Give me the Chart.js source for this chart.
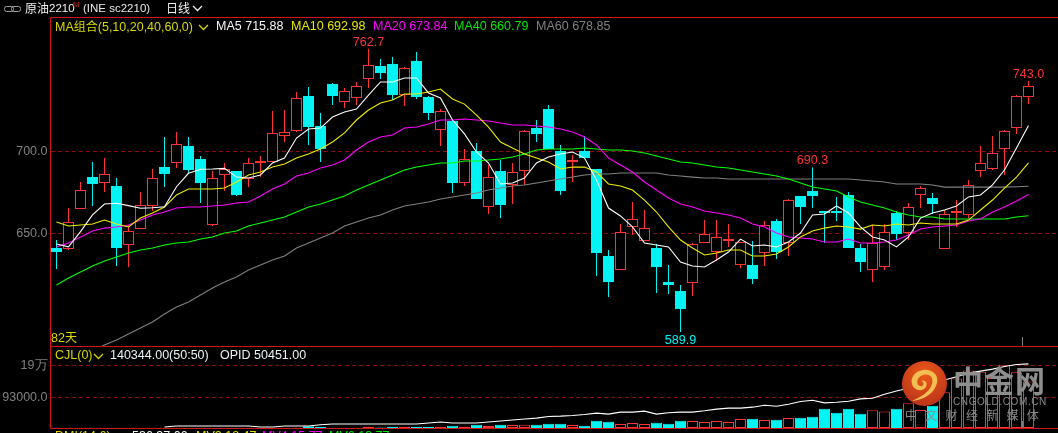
<!DOCTYPE html>
<html>
<head>
<meta charset="utf-8">
<title>原油2210 日线</title>
<script src="https://cdn.jsdelivr.net/npm/chart.js@4/dist/chart.umd.min.js"></script>
<style>
html, body { margin: 0; padding: 0; background: #000; width: 1058px; height: 433px; overflow: hidden; }
#page { position: relative; width: 1058px; height: 433px; overflow: hidden; background: #000; font-family: "Liberation Sans", Arial, sans-serif; }
canvas { position: absolute; left: 0; display: block; }
#priceChart { top: 0; }
#volumeChart { top: 346px; }
.t { position: absolute; white-space: pre; font-size: 12.5px; line-height: 14px; }
.cn { font-family: "Noto Sans CJK SC", sans-serif; }
svg.chev { position: absolute; }
.tick { position: absolute; width: 1px; background: #808080; left: 1022px; }
#mark { position: absolute; left: 0; top: 0; width: 1058px; height: 433px; pointer-events: none; }
.wm { position: absolute; white-space: pre; color: #8c8c8c; }
</style>
</head>
<body>
<div id="page">
  <canvas id="priceChart" width="1059" height="347"></canvas>
  <canvas id="volumeChart" width="1059" height="87"></canvas>

  <!-- cabecera -->
  <svg class="chev" style="left:4px;top:5px" width="17" height="8"><rect x="0.5" y="1.5" width="9" height="5" rx="2" fill="none" stroke="#a0a0a0"/><rect x="7.5" y="1.5" width="9" height="5" rx="2" fill="none" stroke="#a0a0a0"/></svg>
  <div class="t cn" style="left:25px;top:1px;color:#f0f0f0;font-size:12px">原油</div>
  <div class="t" style="left:49px;top:1px;color:#f0f0f0;font-size:11.5px">2210</div>
  <div class="t" style="left:73px;top:-2px;color:#c01818;font-size:8px">M</div>
  <div class="t" style="left:83px;top:1px;color:#e8e8e8;font-size:11.5px">(INE sc2210)</div>
  <div class="t cn" style="left:166px;top:1px;color:#f0f0f0;font-size:12px">日线</div>
  <svg class="chev" style="left:192px;top:5px" width="11" height="7"><path d="M1 1 L5.5 5.5 L10 1" fill="none" stroke="#f0f0f0" stroke-width="1.3"/></svg>

  <!-- leyenda de medias -->
  <div class="t" style="left:55px;top:19px;color:#d8d800">MA<span class="cn" style="font-size:12px">组合</span>(5,10,20,40,60,0)</div>
  <svg class="chev" style="left:198px;top:24px" width="11" height="7"><path d="M1 1 L5.5 5.5 L10 1" fill="none" stroke="#d8d800" stroke-width="1.3"/></svg>
  <div class="t" style="left:216px;top:19px;color:#f4f4f4">MA5 715.88</div>
  <div class="t" style="left:291px;top:19px;color:#e6e600">MA10 692.98</div>
  <div class="t" style="left:373px;top:19px;color:#ff00ff">MA20 673.84</div>
  <div class="t" style="left:454px;top:19px;color:#00e800">MA40 660.79</div>
  <div class="t" style="left:536px;top:19px;color:#808080">MA60 678.85</div>
  <div class="t" style="left:51px;top:330px;color:#d8d800">82<span class="cn" style="font-size:12px">天</span></div>

  <!-- leyenda de volumen -->
  <div class="t" style="left:55px;top:348px;color:#d8d800">CJL(0)</div>
  <svg class="chev" style="left:93px;top:353px" width="11" height="7"><path d="M1 1 L5.5 5.5 L10 1" fill="none" stroke="#d8d800" stroke-width="1.3"/></svg>
  <div class="t" style="left:110px;top:348px;color:#e8f4f4">140344.00(50:50)</div>
  <div class="t" style="left:220px;top:348px;color:#e8f4f4">OPID 50451.00</div>

  <!-- tercer panel, cortado por el borde inferior -->
  <div class="t" style="left:55px;top:429px;color:#d8d800">DMI(14,6)</div>
  <div class="t" style="left:132px;top:429px;color:#f4f4f4">536.37.00</div>
  <div class="t" style="left:196px;top:429px;color:#e6e600">MV2 18.47</div>
  <div class="t" style="left:262px;top:429px;color:#ff00ff">MV4 15.77</div>
  <div class="t" style="left:329px;top:429px;color:#00e800">MV6 13.77</div>

  <div class="tick" style="top:337px;height:9px"></div>
  <div class="tick" style="top:421px;height:7px"></div>

  <!-- marca de agua -->
  <div id="mark">
    <svg style="position:absolute;left:901px;top:360px" width="47" height="47" viewBox="0 0 47 47">
      <defs><radialGradient id="orb" cx="50%" cy="30%" r="75%"><stop offset="0" stop-color="#ec5a18"/><stop offset="1" stop-color="#b8301c"/></radialGradient></defs>
      <circle cx="23.5" cy="23.5" r="22.5" fill="url(#orb)"/>
      <path d="M11 41 C24 40 34 32 36 23 C38 14 30 9 22 10 C14 11 9 18 11 24 C13 31 22 32 25 27 C27 23 24 19 20 21 C24 22 23 27 19 26 C15 25 15 17 22 15 C29 13 33 18 31 24 C28 33 19 37 11 41 Z" fill="#f4bf52"/>
    </svg>
    <div class="wm cn" style="left:953px;top:358px;font-size:30px;line-height:42px;font-weight:700;letter-spacing:1px;color:#8e8e8e">中金网</div>
    <div class="wm" style="left:953px;top:396px;font-size:10px;line-height:11px;letter-spacing:0.6px;color:#8c8c8c">CNGOLD.COM.CN</div>
    <div class="wm cn" style="left:905px;top:407px;font-size:12px;line-height:16px;letter-spacing:8.3px;color:#8c8c8c">中文财经新媒体</div>
  </div>
</div>

<script>
// ===================================
// 原油2210 - velas diarias, medias y volumen
// ===================================

const categories = Array.from({ length: 82 }, (_, i) => String(i + 1)).concat(['', '']);

const opens = [641.2,640.5,664.9,684.4,680.8,679.0,643.0,652.7,666.8,690.5,693.0,703.4,695.4,655.2,685.7,688.1,683.2,693.0,693.6,709.4,712.5,733.8,715.5,741.2,730.2,732.6,744.2,752.1,753.4,734.4,755.2,733.2,713.1,718.6,680.8,700.3,666.2,688.1,679.6,688.1,714.3,725.9,700.3,693.6,700.3,689.3,636.3,627.7,654.0,645.4,641.2,620.4,614.9,619.8,644.2,638.7,645.4,630.8,630.8,638.1,657.6,644.2,672.9,675.9,663.7,663.7,673.5,641.2,627.7,629.6,662.5,650.3,673.5,671.6,640.5,662.5,661.3,688.1,689.3,701.5,714.3,733.2];
const highs = [646.0,665.5,681.4,693.6,696.0,683.8,655.2,675.3,689.3,708.8,711.9,708.8,697.3,688.1,693.0,688.1,696.0,697.3,724.7,725.3,736.3,739.3,723.5,741.8,738.7,742.4,762.7,756.4,757.6,751.5,760.7,733.8,725.9,719.2,701.5,705.2,691.8,694.8,693.0,713.1,719.2,728.4,704.0,697.9,709.4,689.3,639.9,655.8,669.2,664.3,643.6,630.8,618.6,644.2,658.2,658.2,655.8,644.8,645.4,657.6,658.8,671.0,672.9,690.3,663.7,672.3,675.3,643.6,655.2,655.8,663.7,668.6,679.0,674.7,664.3,670.4,682.6,703.4,709.4,713.1,734.4,743.0];
const lows = [628.3,639.9,664.9,666.8,675.3,630.2,629.6,652.7,663.7,678.3,689.9,686.3,668.6,654.6,675.9,672.9,678.3,684.4,693.6,705.8,711.9,704.0,693.6,728.4,726.5,728.4,738.7,744.2,731.4,727.7,732.0,719.2,703.4,674.7,679.0,671.0,661.9,659.4,668.0,679.6,705.8,701.5,673.5,681.4,696.0,624.1,611.3,627.7,649.1,645.4,613.7,613.1,589.9,611.9,644.2,633.2,641.8,629.0,619.2,630.2,634.4,636.3,655.8,665.5,644.2,657.6,641.2,626.5,620.4,627.7,646.0,646.0,665.5,661.9,640.5,654.0,659.4,684.4,688.7,685.7,710.7,728.9];
const closes = [638.7,657.0,676.5,680.2,686.3,641.2,651.5,667.4,683.8,686.3,704.6,688.7,680.8,683.8,689.3,673.5,693.0,694.2,711.3,711.9,732.6,714.9,701.5,733.8,736.9,739.9,752.7,747.9,734.4,750.9,733.2,723.5,724.7,680.8,695.4,671.0,684.4,667.4,687.5,712.5,710.7,701.5,675.9,694.8,696.0,638.1,620.4,650.9,658.8,653.3,629.6,618.6,604.0,643.6,649.7,647.9,646.6,644.8,622.2,655.2,638.7,670.4,666.2,672.9,662.5,662.5,641.2,632.6,644.2,650.9,649.7,666.2,677.7,668.0,661.9,663.7,679.6,693.0,699.1,712.5,733.8,739.9];

const ma5 = [643.6,641.9,651.1,661.3,668.0,668.4,667.0,665.4,665.7,666.3,678.5,686.7,689.2,689.3,689.7,684.4,683.8,685.7,693.0,696.0,708.2,713.7,714.3,721.0,724.1,725.9,734.4,742.4,742.4,744.8,744.8,735.7,732.6,719.2,710.7,699.7,693.0,680.2,680.8,683.8,693.0,696.6,698.5,699.7,696.0,682.6,665.5,660.7,654.0,644.2,643.0,641.8,632.6,630.2,629.6,633.8,638.7,646.6,642.4,643.0,641.8,644.8,650.3,661.3,661.9,666.8,662.5,654.0,647.9,646.0,641.8,647.9,659.4,662.5,664.3,666.8,672.3,673.5,679.6,688.7,702.1,715.9];
const ma10 = [657.0,654.6,655.2,655.8,658.2,655.8,654.0,659.4,662.5,666.2,673.5,677.1,677.1,677.1,677.7,681.4,685.7,687.5,690.5,692.4,696.0,698.5,701.5,705.8,711.3,719.2,725.3,729.6,731.4,735.1,735.1,736.3,738.1,732.0,728.9,722.2,714.9,705.8,702.1,698.5,696.0,693.6,689.3,690.5,690.5,687.5,680.2,679.0,676.5,670.4,663.1,654.0,646.0,641.2,636.9,638.1,639.9,639.9,636.3,636.3,637.5,641.8,647.9,651.5,653.3,654.6,654.0,652.7,655.2,654.6,655.8,655.2,656.4,655.8,655.8,655.8,658.2,664.3,670.4,677.7,684.4,693.0];
const ma20 = [641.8,644.2,647.9,651.5,653.3,654.0,655.2,658.2,661.3,663.1,665.5,666.2,666.2,666.8,667.4,668.6,669.2,672.9,677.1,680.2,685.1,686.9,689.9,691.8,694.8,700.9,705.8,708.8,710.1,714.3,714.9,716.8,719.2,719.2,719.8,719.2,718.6,717.4,716.2,716.2,715.5,714.9,713.7,711.9,708.8,704.0,696.0,691.8,687.5,681.4,676.5,671.6,668.0,666.2,663.7,662.5,661.3,659.4,655.8,654.0,650.3,647.9,647.3,646.6,644.8,644.8,646.6,644.2,644.2,644.8,646.0,649.1,652.7,654.0,654.6,655.2,657.6,658.8,663.1,666.2,669.8,673.8];
const ma40 = [618.6,622.9,626.5,630.2,633.2,635.7,638.1,639.9,641.2,643.0,644.2,644.8,646.6,647.9,650.3,651.5,654.6,656.4,658.2,660.1,663.1,666.2,668.0,670.4,672.9,676.5,679.6,682.6,685.7,688.7,690.5,691.8,693.0,693.0,694.2,694.2,694.8,695.4,696.6,698.5,700.9,701.5,701.5,701.5,702.1,701.5,700.9,700.9,700.3,699.1,697.3,695.4,693.6,693.0,691.8,690.5,689.9,688.7,687.5,686.3,685.1,683.2,680.8,678.3,677.1,675.9,672.3,669.2,667.4,665.5,663.1,661.3,660.1,660.1,658.8,658.8,658.8,658.8,658.8,658.8,660.1,660.8];
const ma60 = [null,null,null,578.3,582.0,585.0,588.7,592.4,596.0,600.9,605.2,608.2,612.5,616.8,620.4,623.5,627.7,630.8,633.8,636.3,641.2,644.2,647.3,650.3,654.6,657.0,659.4,661.3,664.3,666.8,668.0,669.2,671.0,672.3,673.5,674.7,676.5,677.7,679.0,679.6,680.8,682.0,683.2,684.4,685.7,686.3,686.3,686.9,686.9,686.9,686.9,685.7,685.1,684.4,683.8,683.8,683.2,683.2,683.2,683.2,683.2,683.2,683.2,683.2,683.2,683.2,683.2,682.6,682.0,681.4,680.2,680.2,680.2,679.6,678.3,678.3,678.3,678.3,678.3,678.3,678.5,678.85];

const volumes = [600,500,700,500,800,600,500,700,900,600,500,700,800,600,500,900,700,600,800,700,900,5000,3000,900,800,1000,4000,1200,4000,4000,4000,4000,4000,7000,4000,10000,6000,10000,9000,10000,10000,13000,13000,9000,7000,22000,19000,12000,15000,12000,16000,13000,22000,21000,18000,21000,18000,27000,28000,24000,25000,30000,31000,34000,58000,46000,58000,43000,54000,50000,58000,75000,54600,67000,108000,150000,174000,170000,151000,191000,169000,140344];
const openInterest = [null,null,null,null,null,null,null,null,null,3000,6000,6000,6000,6000,6000,6000,6000,3000,3000,6000,6000,6000,10000,12000,12000,12000,12000,12000,12000,12000,12000,15000,18000,15000,15000,15000,18000,21000,24000,27000,30000,35000,36000,38000,41000,45000,42000,48000,48000,51000,42000,46000,48000,48000,52000,57000,60000,60000,63000,69000,66000,72000,80000,84000,76000,78000,81000,88000,90000,102000,112000,120000,130000,135000,145000,155000,166000,172000,178000,186000,192000,194000];

const priceTicks = [650, 700];
const volumeTicks = [93000, 190000];
const highLabels = [26, 63, 81];
const lowLabels = [52];

const RED = '#ff3434';
const CYAN = '#00f4f4';
const FRAME = '#d01414';
const GRID = '#8c0f0f';
const AXIS_TEXT = '#808080';
const FONT = '"Liberation Sans", Arial, sans-serif';

const isUp = closes.map((c, i) => c >= opens[i]);
const fillColors = isUp.map(up => up ? '#000000' : CYAN);
const edgeColors = isUp.map(up => up ? RED : CYAN);

// Marco rojo del panel
const framePlugin = {
    id: 'frame',
    afterDatasetsDraw(chart, args, opts) {
        const { ctx, chartArea: a, canvas } = chart;
        ctx.save();
        ctx.strokeStyle = FRAME;
        ctx.lineWidth = 1;
        ctx.beginPath();
        ctx.moveTo(50.5, a.top - (opts.topGap || 0));
        ctx.lineTo(50.5, a.bottom + 0.5);
        if (opts.drawTop) {
            ctx.moveTo(50.5, a.top - 0.5);
            ctx.lineTo(canvas.width, a.top - 0.5);
        }
        ctx.moveTo(50.5, a.bottom + 0.5);
        ctx.lineTo(canvas.width, a.bottom + 0.5);
        ctx.stroke();
        ctx.restore();
    }
};

// Etiquetas de máximos y mínimos
const extremesPlugin = {
    id: 'extremes',
    afterDatasetsDraw(chart) {
        const { ctx, scales } = chart;
        ctx.save();
        ctx.font = '12.5px ' + FONT;
        ctx.textAlign = 'center';
        ctx.textBaseline = 'alphabetic';
        ctx.fillStyle = RED;
        highLabels.forEach(i => {
            ctx.fillText(highs[i].toFixed(1), scales.x.getPixelForValue(i), scales.y.getPixelForValue(highs[i]) - 3);
        });
        ctx.fillStyle = CYAN;
        lowLabels.forEach(i => {
            ctx.fillText(lows[i].toFixed(1), scales.x.getPixelForValue(i), scales.y.getPixelForValue(lows[i]) + 12);
        });
        ctx.restore();
    }
};

function lineSet(data, color) {
    return { type: 'line', data: data, borderColor: color, borderWidth: 1.1, pointRadius: 0, tension: 0, fill: false, order: 1, spanGaps: false };
}

function barSet(data, bg, edge, thickness, width, order) {
    return {
        type: 'bar', data: data, backgroundColor: bg, borderColor: edge, borderWidth: width,
        barThickness: thickness, borderSkipped: false, grouped: false, inflateAmount: 0, order: order
    };
}

function axisY(min, max, ticks, format) {
    return {
        position: 'left',
        min: min,
        max: max,
        afterFit(scale) {
            scale.width = 50.5;
            // sin margen extra por las etiquetas de los extremos
            scale.paddingTop = 0;
            scale.paddingBottom = 0;
        },
        afterBuildTicks(scale) { scale.ticks = ticks.map(v => ({ value: v })); },
        grid: { color: GRID, lineWidth: 1, drawTicks: false },
        border: { display: false, dash: [4, 3] },
        ticks: { color: AXIS_TEXT, padding: 3, font: { family: FONT, size: 12.5 }, callback: format }
    };
}

const baseOptions = { responsive: false, animation: false, devicePixelRatio: 1, events: [] };

Chart.defaults.font.family = FONT;

new Chart(document.getElementById('priceChart'), {
    data: {
        labels: categories,
        datasets: [
            lineSet(ma5, '#ffffff'),
            lineSet(ma10, '#eeee00'),
            lineSet(ma20, '#ff00ff'),
            lineSet(ma40, '#00ff00'),
            lineSet(ma60, '#808080'),
            barSet(opens.map((o, i) => [o, closes[i]]), fillColors, edgeColors, 11, 1, 5),
            barSet(lows.map((l, i) => [l, highs[i]]), edgeColors, edgeColors, 1, 0, 6)
        ]
    },
    options: {
        ...baseOptions,
        layout: { padding: { top: 18, bottom: 1, right: 0.5, left: 0 } },
        scales: {
            x: { type: 'category', display: false },
            y: axisY(581.4, 781.4, priceTicks, v => v.toFixed(1))
        },
        plugins: {
            legend: { display: false }, tooltip: { enabled: false },
            frame: { drawTop: true }
        }
    },
    plugins: [framePlugin, extremesPlugin]
});

new Chart(document.getElementById('volumeChart'), {
    data: {
        labels: categories,
        datasets: [
            lineSet(openInterest, '#ffffff'),
            barSet(volumes, fillColors, edgeColors, 11, 1, 5)
        ]
    },
    options: {
        ...baseOptions,
        layout: { padding: { top: 1, bottom: 5, right: 0.5, left: 0 } },
        scales: {
            x: { type: 'category', display: false },
            y: axisY(0, 245000, volumeTicks, v => v >= 100000 ? (v / 10000) + '万' : v.toFixed(1))
        },
        plugins: {
            legend: { display: false }, tooltip: { enabled: false },
            frame: { topGap: 1 }
        }
    },
    plugins: [framePlugin]
});
</script>
</body>
</html>
